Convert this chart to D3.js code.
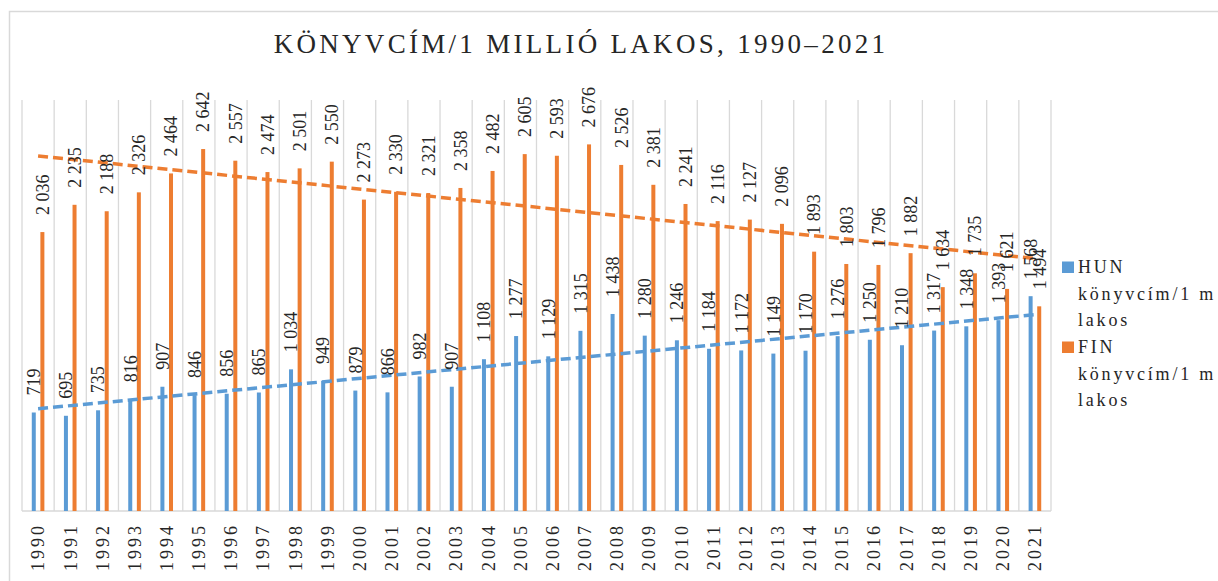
<!DOCTYPE html>
<html>
<head>
<meta charset="utf-8">
<script src="https://cdn.jsdelivr.net/npm/d3@7"></script>
<style>
  html, body { margin: 0; padding: 0; background: #fff; }
  svg { display: block; }
</style>
</head>
<body>
<svg id="chart" width="1218" height="581"></svg>
<script>
const titleText = "KÖNYVCÍM/1 MILLIÓ LAKOS, 1990–2021";
const years = ["1990","1991","1992","1993","1994","1995","1996","1997","1998","1999","2000","2001","2002","2003","2004","2005","2006","2007","2008","2009","2010","2011","2012","2013","2014","2015","2016","2017","2018","2019","2020","2021"];
const hunValues = [719,695,735,816,907,846,856,865,1034,949,879,866,982,907,1108,1277,1129,1315,1438,1280,1246,1184,1172,1149,1170,1276,1250,1210,1317,1348,1393,1568];
const finValues = [2036,2235,2188,2326,2464,2642,2557,2474,2501,2550,2273,2330,2321,2358,2482,2605,2593,2676,2526,2381,2241,2116,2127,2096,1893,1803,1796,1882,1634,1735,1621,1494];
const seriesNames = ["HUN", "FIN"];
const legendLines = [["HUN", "könyvcím/1 m", "lakos"], ["FIN", "könyvcím/1 m", "lakos"]];
const colors = ["#5B9BD5", "#ED7D31"];

const FONT = "'Liberation Serif', 'DejaVu Serif', serif";
const svg = d3.select("#chart").style("font-family", FONT);
const pLeft = 22, pRight = 1051, pTop = 100, pBottom = 511;

// frame
svg.append("path")
  .attr("d", `M9.5,581 V11.5 H1218`)
  .attr("fill", "none").attr("stroke", "#d9d9d9").attr("stroke-width", 1.5);

const x = d3.scaleBand().domain(years).range([pLeft, pRight]).padding(0);
const y = d3.scaleLinear().domain([0, 3000]).range([pBottom, pTop]);
const xs = d3.scaleBand().domain(seriesNames).range([-6.3, 6.3]).paddingInner(0.535).paddingOuter(0);

// vertical gridlines at category boundaries
const bounds = years.map(d => x(d)).concat([pRight]);
svg.append("g").selectAll("line").data(bounds).join("line")
  .attr("x1", d => d).attr("x2", d => d)
  .attr("y1", pTop).attr("y2", pBottom)
  .attr("stroke", "#d9d9d9").attr("stroke-width", 1.3);

// baseline
svg.append("line").attr("x1", pLeft).attr("x2", pRight).attr("y1", pBottom).attr("y2", pBottom)
  .attr("stroke", "#d9d9d9").attr("stroke-width", 1.5);

const series = [hunValues, finValues];

// bars
series.forEach((vals, si) => {
  svg.append("g").selectAll("rect").data(vals).join("rect")
    .attr("x", (d, i) => x(years[i]) + x.bandwidth() / 2 + xs(seriesNames[si]))
    .attr("width", xs.bandwidth())
    .attr("y", d => y(d))
    .attr("height", d => pBottom - y(d))
    .attr("fill", colors[si]);
});

// trend lines (least squares linear fit)
series.forEach((vals, si) => {
  const n = vals.length;
  const idx = d3.range(n);
  const mx = d3.mean(idx), my = d3.mean(vals);
  const slope = d3.sum(idx, i => (i - mx) * (vals[i] - my)) / d3.sum(idx, i => (i - mx) * (i - mx));
  const icpt = my - slope * mx;
  const pts = [0, n - 1].map(i => [x(years[i]) + x.bandwidth() / 2, y(icpt + slope * i)]);
  svg.append("path")
    .attr("d", d3.line()(pts))
    .attr("fill", "none")
    .attr("stroke", colors[si])
    .attr("stroke-width", 3.5)
    .attr("stroke-dasharray", "10,5");
});

const txt = sel => sel.style("font-family", FONT).attr("fill", "#262626");

// data labels
const fmt = v => { const s = String(v); return s.length > 3 ? s.slice(0, s.length - 3) + " " + s.slice(-3) : s; };
series.forEach((vals, si) => {
  svg.append("g").selectAll("text").data(vals).join("text")
    .call(txt)
    .attr("transform", (d, i) => {
      const cx = x(years[i]) + x.bandwidth() / 2 + xs(seriesNames[si]) + xs.bandwidth() / 2;
      return `translate(${cx},${y(d) - 17}) rotate(-90)`;
    })
    .attr("dy", "0.35em")
    .attr("text-anchor", "start")
    .style("font-size", "18px")
    .text(d => fmt(d));
});

// x axis labels
svg.append("g").selectAll("text").data(years).join("text")
  .call(txt)
  .attr("transform", d => `translate(${x(d) + x.bandwidth() / 2},523) rotate(-90)`)
  .attr("dy", "0.35em")
  .attr("text-anchor", "end")
  .style("font-size", "18px")
  .style("letter-spacing", "3px")
  .text(d => d);

// title
svg.append("text")
  .call(txt)
  .attr("x", 581).attr("y", 53)
  .attr("text-anchor", "middle")
  .style("font-size", "27px")
  .style("letter-spacing", "3.3px")
  .text(titleText);

// legend
const lg = svg.append("g");
legendLines.forEach((lines, si) => {
  const base = 273 + si * 80;
  lg.append("rect").attr("x", 1062).attr("y", base - 11.5).attr("width", 12).attr("height", 11.5).attr("fill", colors[si]);
  lines.forEach((t, li) => {
    lg.append("text")
      .call(txt)
      .attr("x", 1078).attr("y", base + li * 26.7)
      .style("font-size", "18px")
      .style("letter-spacing", "2.8px")
      .text(t);
  });
});
</script>
</body>
</html>
